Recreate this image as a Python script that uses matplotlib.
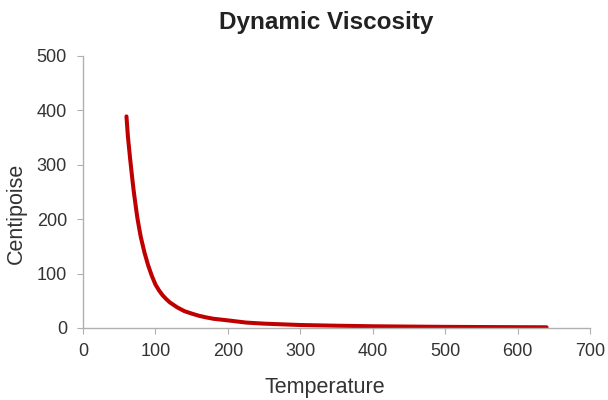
import numpy as np
import matplotlib
matplotlib.use("Agg")
import matplotlib.pyplot as plt

plt.rcParams['font.family'] = ['Liberation Sans', 'DejaVu Sans']

# values
temperature = [60, 62, 65, 68, 70, 73, 75, 78, 80, 85, 90, 95, 100, 105, 110, 115, 120, 130, 140,
               150, 160, 170, 180, 200, 225, 250, 300, 350, 400, 450, 500, 550, 600, 640]
viscosity = [389, 352, 312, 275, 252, 222, 203, 180, 166, 138, 115, 96, 80, 69, 60, 53, 47, 38, 31,
             26.5, 22.5, 19.5, 17, 14, 10, 8, 5.5, 4.2, 3.2, 2.6, 2.1, 1.8, 1.5, 1.3]

x_ticks = [0, 100, 200, 300, 400, 500, 600, 700]
y_ticks = [0, 100, 200, 300, 400, 500]

fig = plt.figure(figsize=(6.08, 4.0), dpi=100)
ax = fig.add_axes([0.1365, 0.18, 0.834, 0.68])

ax.plot(temperature, viscosity, color="#c00000", lw=2.9, solid_capstyle="round",
        solid_joinstyle="round")

ax.set_xlim(0, 700)
ax.set_ylim(0, 500)
ax.set_xticks(x_ticks)
ax.set_yticks(y_ticks)

for s in ["top", "right"]:
    ax.spines[s].set_visible(False)
for s in ["left", "bottom"]:
    ax.spines[s].set_color("#b0b0b0")
    ax.spines[s].set_linewidth(1)
ax.tick_params(colors="#b0b0b0", labelcolor="#333333", labelsize=13, length=4.5, direction="out")
ax.tick_params(axis="y", pad=7)
ax.tick_params(axis="x", pad=6)

# title and axis titles placed like the Excel chart
fig.text(326 / 608, 1 - 29.5 / 400, "Dynamic Viscosity", fontsize=17.5, fontweight="bold",
         color="#222222", ha="center", va="baseline")
fig.text(325 / 608, 1 - 393 / 400, "Temperature", fontsize=15.5, color="#333333",
         ha="center", va="baseline")
fig.text(16 / 608, 1 - 213 / 400, "Centipoise", fontsize=15.5, color="#333333",
         ha="center", va="center", rotation=90)

fig.savefig("out.png", dpi=100)
